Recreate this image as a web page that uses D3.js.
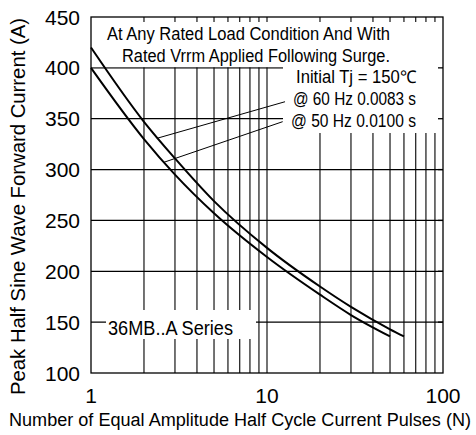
<!DOCTYPE html>
<html>
<head>
<meta charset="utf-8">
<script src="https://cdn.jsdelivr.net/npm/d3@7/dist/d3.min.js"></script>
<style>
  html, body { margin: 0; padding: 0; background: #fff; }
  svg { display: block; }
  text { font-family: "Liberation Sans", Arial, Helvetica, sans-serif; fill: #000; }
</style>
</head>
<body>
<svg id="chart" width="476" height="435"></svg>
<script>
// ---- data ----
const yTicks = [100, 150, 200, 250, 300, 350, 400, 450];
const xTickLabels = [1, 10, 100];
const xGrid = [2, 3, 4, 5, 6, 7, 8, 9, 10, 20, 30, 40, 50, 60, 70, 80, 90];

const n60 = [1, 2, 3, 5, 10, 20, 30, 50, 60];
const i60 = [420, 347, 311, 269, 223, 185, 165, 143, 136];
const n50 = [1, 2, 3, 5, 10, 20, 30, 50];
const i50 = [400, 330, 295, 257, 214, 177, 157, 136];

const leader60 = [[2.4, 331], [12.66, 366.7]];
const leader50 = [[2.58, 307], [12.28, 347.1]];

const noteLines = ["At Any Rated Load Condition And With", "Rated Vrrm Applied Following Surge."];
const condLines = ["Initial Tj = 150\u2103", "@ 60 Hz 0.0083 s", "@ 50 Hz 0.0100 s"];
const seriesLabel = "36MB..A Series";
const yTitle = "Peak Half Sine Wave Forward Current (A)";
const xTitle = "Number of Equal Amplitude Half Cycle Current Pulses (N)";

// ---- layout ----
const L = 91, R = 443, T = 17, B = 373;
const x = d3.scaleLog().domain([1, 100]).range([L, R]);
const y = d3.scaleLinear().domain([100, 450]).range([B, T]);

const svg = d3.select("#chart");
const g = svg.append("g");

function fitText(sel, len) {
  return sel.attr("textLength", len).attr("lengthAdjust", "spacingAndGlyphs");
}

// grid
g.selectAll(".hg").data(yTicks.filter(v => v > 100 && v < 450)).enter().append("line")
  .attr("x1", L).attr("x2", R).attr("y1", d => y(d)).attr("y2", d => y(d))
  .attr("stroke", "#000").attr("stroke-width", 1.3);
g.selectAll(".vg").data(xGrid).enter().append("line")
  .attr("x1", d => x(d)).attr("x2", d => x(d)).attr("y1", T).attr("y2", B)
  .attr("stroke", "#000").attr("stroke-width", 1.1);

// white masks behind annotations
const masks = [
  [L, T, R - L, y(400) - T - 0.7],
  [283, y(400) - 1, R - 283, 133 - y(400) + 1],
  [106, 310, 150, 29]
];
g.selectAll(".mask").data(masks).enter().append("rect")
  .attr("x", d => d[0]).attr("y", d => d[1]).attr("width", d => d[2]).attr("height", d => d[3])
  .attr("fill", "#fff");

// frame
g.append("rect").attr("x", L).attr("y", T).attr("width", R - L).attr("height", B - T)
  .attr("fill", "none").attr("stroke", "#000").attr("stroke-width", 1.3);

// inner ticks on top and right
g.selectAll(".tt").data(xGrid).enter().append("line")
  .attr("x1", d => x(d)).attr("x2", d => x(d)).attr("y1", T).attr("y2", T + 5)
  .attr("stroke", "#000").attr("stroke-width", 1.1);
g.selectAll(".rt").data(yTicks.filter(v => v > 100 && v < 450)).enter().append("line")
  .attr("x1", R - 5).attr("x2", R).attr("y1", d => y(d)).attr("y2", d => y(d))
  .attr("stroke", "#000").attr("stroke-width", 1.3);

// curves
const line = d3.line().x(d => x(d[0])).y(d => y(d[1])).curve(d3.curveMonotoneX);
g.append("path").datum(n60.map((n, i) => [n, i60[i]])).attr("d", line)
  .attr("fill", "none").attr("stroke", "#000").attr("stroke-width", 2);
g.append("path").datum(n50.map((n, i) => [n, i50[i]])).attr("d", line)
  .attr("fill", "none").attr("stroke", "#000").attr("stroke-width", 2);

// leaders
[leader60, leader50].forEach(ld => {
  g.append("line").attr("x1", x(ld[0][0])).attr("y1", y(ld[0][1]))
    .attr("x2", x(ld[1][0])).attr("y2", y(ld[1][1]))
    .attr("stroke", "#000").attr("stroke-width", 1);
});

// axis tick labels
g.selectAll(".yl").data(yTicks).enter().append("text")
  .attr("x", 80).attr("y", d => y(d) + 7.5).attr("text-anchor", "end")
  .attr("font-size", 21).text(d => d);
g.selectAll(".xl").data(xTickLabels).enter().append("text")
  .attr("x", d => x(d)).attr("y", 403).attr("text-anchor", "middle")
  .attr("font-size", 21).text(d => d);

// annotations
const noteLens = [283, 268];
noteLines.forEach((t, i) => {
  fitText(g.append("text").attr("x", 390 - noteLens[i]).attr("y", 40 + i * 22)
    .attr("font-size", 17.5).text(t), noteLens[i]);
});
const condLens = [120, 123, 125];
condLines.forEach((t, i) => {
  fitText(g.append("text").attr("x", 416 - condLens[i]).attr("y", 83 + i * 22)
    .attr("font-size", 17.5).text(t), condLens[i]);
});
fitText(g.append("text").attr("x", 108).attr("y", 335).attr("font-size", 20).text(seriesLabel), 125);

// axis titles
fitText(g.append("text").attr("transform", "translate(25,395) rotate(-90)")
  .attr("font-size", 20).text(yTitle), 377);
fitText(g.append("text").attr("x", 9).attr("y", 426)
  .attr("font-size", 17.6).text(xTitle), 462);
</script>
</body>
</html>
